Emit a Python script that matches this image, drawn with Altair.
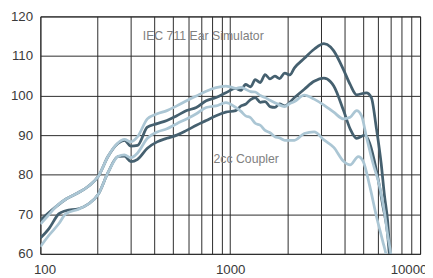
import altair as alt
import pandas as pd

# IEC 711 Ear Simulator - upper (dark)
iec_hi_freq = [100, 109, 120, 136, 159, 179, 202, 227, 256, 277, 300, 325, 366, 412, 464, 523, 589, 663, 747, 842, 948,
               1068, 1140, 1203, 1280, 1354, 1440, 1526, 1620, 1718, 1820, 1936, 2060, 2180, 2456, 2766, 3115, 3375,
               3509, 3953, 4281, 4630, 5216, 5536, 5875, 6235, 6493, 6753, 6940, 7100]
iec_hi_db = [68.5, 70.1, 71.8, 73.8, 75.5, 77.1, 79.6, 84.6, 87.9, 88.7, 87.2, 87.4, 92.0, 92.9, 93.7, 94.9, 96.2, 97.0,
             98.7, 99.5, 100.7, 101.8, 101.3, 102.8, 102.2, 104.0, 103.3, 105.3, 104.2, 104.9, 104.3, 105.7, 105.2,
             107.0, 109.4, 111.7, 113.1, 112.3, 111.3, 106.5, 102.8, 100.2, 100.7, 99.5, 92.0, 82.9, 74.7, 68.1, 59.8,
             55.0]

# IEC 711 Ear Simulator - lower (dark)
iec_lo_freq = [100, 111, 125, 136, 159, 179, 202, 227, 256, 277, 300, 325, 366, 412, 464, 523, 589, 663, 747, 842, 948,
               1068, 1140, 1203, 1280, 1354, 1440, 1526, 1620, 1718, 1820, 1936, 2180, 2456, 2766, 3115, 3375, 3509,
               3953, 4281, 4630, 5117, 5431, 5875, 6363, 6753, 6890, 7050]
iec_lo_db = [64.0, 66.4, 70.1, 70.9, 71.4, 72.6, 75.1, 80.5, 84.6, 84.7, 83.3, 83.9, 86.7, 88.3, 89.2, 90.0, 91.2, 92.5,
             93.7, 94.9, 95.8, 96.2, 97.4, 97.8, 99.0, 99.5, 98.3, 98.5, 97.2, 97.0, 97.9, 97.4, 99.5, 101.6, 103.6,
             104.4, 103.5, 102.4, 96.2, 91.6, 89.2, 90.0, 87.9, 81.3, 72.2, 64.7, 59.8, 55.0]

# 2cc Coupler - upper (light)
cpl_hi_freq = [100, 109, 120, 136, 159, 179, 202, 227, 256, 277, 300, 325, 366, 412, 464, 523, 589, 663, 747, 842, 948,
               1000, 1068, 1140, 1203, 1280, 1354, 1440, 1526, 1620, 1718, 1936, 2060, 2180, 2456, 2766, 3115, 3509,
               3953, 4281, 4630, 4915, 5216, 5648, 6118, 6493, 6753, 7020, 7200]
cpl_hi_db = [67.5, 69.5, 71.8, 73.8, 75.5, 77.1, 79.6, 84.6, 88.0, 88.9, 88.3, 89.6, 94.1, 95.4, 96.2, 97.4, 98.7, 99.9,
             101.1, 102.0, 102.4, 102.2, 101.8, 102.1, 101.6, 101.0, 100.9, 100.0, 99.5, 98.8, 98.2, 97.2, 98.0, 98.5,
             100.1, 99.1, 97.6, 95.8, 94.1, 94.5, 96.2, 94.9, 89.6, 82.9, 77.1, 70.5, 64.7, 59.8, 55.0]

# 2cc Coupler - lower (light)
cpl_lo_freq = [100, 111, 125, 136, 159, 179, 202, 227, 256, 277, 300, 325, 366, 412, 464, 523, 589, 663, 747, 842, 948,
               1068, 1140, 1203, 1280, 1354, 1440, 1526, 1620, 1718, 1820, 1936, 2180, 2456, 2766, 3115, 3509, 3953,
               4281, 4725, 5015, 5431, 5875, 6363, 6618, 6800]
cpl_lo_db = [61.8, 64.7, 67.6, 70.1, 71.3, 72.6, 75.1, 80.5, 84.6, 85.0, 84.3, 85.5, 89.2, 90.8, 91.6, 92.9, 94.1, 95.4,
             97.0, 97.4, 98.2, 97.0, 96.0, 94.9, 94.4, 93.0, 92.5, 91.2, 90.6, 89.6, 89.3, 88.7, 88.7, 90.4, 90.8,
             88.8, 86.9, 83.4, 82.5, 84.6, 83.4, 77.1, 69.7, 63.1, 59.8, 56.0]

series_names = ["IEC hi", "IEC lo", "2cc hi", "2cc lo"]
series_colors = ["#45606f", "#45606f", "#abc6d4", "#abc6d4"]

x_ticks = [100, 200, 300, 400, 500, 600, 700, 800, 900,
           1000, 2000, 3000, 4000, 5000, 6000, 7000, 8000, 9000, 10000]
y_ticks = [60, 70, 80, 90, 100, 110, 120]

labels_text = ["IEC 711 Ear Simulator", "2cc Coupler"]
labels_freq = [721, 1214]
labels_db = [115.0, 84.0]

rows = []
for name, fr, db in [("IEC hi", iec_hi_freq, iec_hi_db), ("IEC lo", iec_lo_freq, iec_lo_db),
                     ("2cc hi", cpl_hi_freq, cpl_hi_db), ("2cc lo", cpl_lo_freq, cpl_lo_db)]:
    for i, (f, d) in enumerate(zip(fr, db)):
        rows.append({"series": name, "freq": f, "db": d, "order": i})
df = pd.DataFrame(rows)
df_dark = df[df.series.str.startswith("IEC")]
df_light = df[df.series.str.startswith("2cc")]

xscale = alt.Scale(type="log", domain=[100, 10000], nice=False)
yscale = alt.Scale(domain=[60, 120], nice=False, zero=False)
cscale = alt.Scale(domain=series_names, range=series_colors)

xaxis = alt.Axis(values=x_ticks, format="d", title=None, ticks=False, domain=False,
                 labelExpr="(datum.value == 100 || datum.value == 1000 || datum.value == 10000) ? datum.label : ''",
                 grid=True, gridColor="#2a2a2a", gridWidth=1, gridOpacity=1,
                 labelFont="Liberation Sans", labelFontSize=13.5, labelColor="#3a3a3a", labelPadding=9,
                 labelFlush=True, labelFlushOffset=7, labelOverlap=False)
yaxis = alt.Axis(values=y_ticks, title=None, ticks=False, domain=False,
                 grid=True, gridColor="#2a2a2a", gridWidth=1, gridOpacity=1,
                 labelFont="Liberation Sans", labelFontSize=13.5, labelColor="#3a3a3a", labelPadding=8)


def lines(data):
    return alt.Chart(data).mark_line(strokeWidth=2.8, interpolate="monotone", clip=True).encode(
        x=alt.X("freq:Q", scale=xscale, axis=xaxis),
        y=alt.Y("db:Q", scale=yscale, axis=yaxis),
        color=alt.Color("series:N", scale=cscale, legend=None),
        detail="series:N",
        order="order:Q",
    )


text_df = pd.DataFrame({"t": labels_text, "freq": labels_freq, "db": labels_db})
texts = alt.Chart(text_df).mark_text(font="Liberation Sans", fontSize=12.5, color="#808080",
                                      align="center", baseline="middle").encode(
    x=alt.X("freq:Q", scale=xscale),
    y=alt.Y("db:Q", scale=yscale),
    text="t:N",
)

chart = alt.layer(lines(df_dark), lines(df_light), texts).properties(
    width=387, height=242,
    autosize=alt.AutoSizeParams(type="none"),
    padding={"left": 33, "top": 6, "right": 5, "bottom": 21},
).configure_view(stroke="#2a2a2a", strokeWidth=1)

chart.save("out.html", embed_options={"renderer": "svg", "actions": False})
